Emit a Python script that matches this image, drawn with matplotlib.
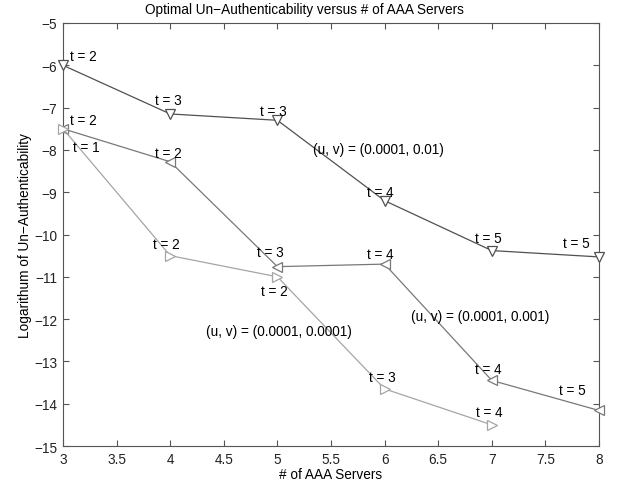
import matplotlib
matplotlib.use("Agg")
import matplotlib.pyplot as plt

plt.rcParams['font.family'] = ['Liberation Sans', 'DejaVu Sans']

servers = [3, 4, 5, 6, 7, 8]

# (u, v) = (0.0001, 0.01)
y_01 = [-6.0, -7.15, -7.3, -9.2, -10.38, -10.53]
t_01 = [2, 3, 3, 4, 5, 5]
# (u, v) = (0.0001, 0.001)
y_001 = [-7.5, -8.28, -10.76, -10.7, -13.45, -14.16]
t_001 = [2, 2, 3, 4, 4, 5]
# (u, v) = (0.0001, 0.0001)
servers_0001 = [3, 4, 5, 6, 7]
y_0001 = [-7.5, -10.5, -11.0, -13.65, -14.5]
t_0001 = [1, 2, 2, 3, 4]

fig = plt.figure(figsize=(6.2, 4.89), dpi=100)
ax = fig.add_axes([63/620, 1 - 447/489, 536/620, 423/489])

c1, c2, c3 = '#505050', '#787878', '#a5a5a5'
kw = dict(lw=0.9, ms=7, mfc='white', mew=0.9, clip_on=False, zorder=3)
ax.plot(servers, y_01, color=c1, marker='v', mec=c1, **kw)
ax.plot(servers, y_001, color=c2, marker='<', mec=c2, **kw)
ax.plot(servers_0001, y_0001, color=c3, marker='>', mec=c3, **kw)

fs = 9.8
# label offsets (dx, dy) from each point, in data units
off_01 = [(0.065, 0.22), (-0.02, 0.33), (-0.04, 0.22), (-0.04, 0.2), (-0.03, 0.3), (-0.21, 0.33)]
off_001 = [(0.065, 0.21), (-0.02, 0.21), (-0.07, 0.34), (-0.04, 0.24), (-0.03, 0.27), (-0.25, 0.48)]
off_0001 = [(0.09, -0.43), (-0.04, 0.28), (-0.03, -0.33), (-0.02, 0.28), (-0.02, 0.3)]
for xs, ys, ts, offs in [(servers, y_01, t_01, off_01),
                         (servers, y_001, t_001, off_001),
                         (servers_0001, y_0001, t_0001, off_0001)]:
    for i, (x, y, t, (dx, dy)) in enumerate(zip(xs, ys, ts, offs)):
        ax.text(x + dx, y + dy, f't = {t}', fontsize=fs,
                ha='left' if i == 0 else 'center', va='center')

ax.text(5.94, -7.98, '(u, v) = (0.0001, 0.01)', fontsize=fs, ha='center', va='center')
ax.text(6.89, -11.93, '(u, v) = (0.0001, 0.001)', fontsize=fs, ha='center', va='center')
ax.text(5.01, -12.28, '(u, v) = (0.0001, 0.0001)', fontsize=fs, ha='center', va='center')

ax.set_xlim(3, 8)
ax.set_ylim(-15, -5)
ax.set_xticks([3, 3.5, 4, 4.5, 5, 5.5, 6, 6.5, 7, 7.5, 8])
ax.set_xticklabels(['3', '3.5', '4', '4.5', '5', '5.5', '6', '6.5', '7', '7.5', '8'])
ax.set_yticks(range(-15, -4))
ax.set_yticklabels([f'\u2212{abs(v)}' for v in range(-15, -4)])
ax.tick_params(direction='in', top=True, right=True, labelsize=fs, length=4,
               color='#555555', labelcolor='#222222', pad=4)
for s in ax.spines.values():
    s.set_color('#555555')

ax.set_xlabel('# of AAA Servers', fontsize=fs, labelpad=1)
ax.set_ylabel('Logarithum of Un\u2212Authenticability', fontsize=fs, labelpad=2)
fig.text(304/620, 1 - 10/489, 'Optimal Un\u2212Authenticability versus # of AAA Servers',
         fontsize=fs, ha='center', va='center')

fig.savefig('out.png', dpi=100)
